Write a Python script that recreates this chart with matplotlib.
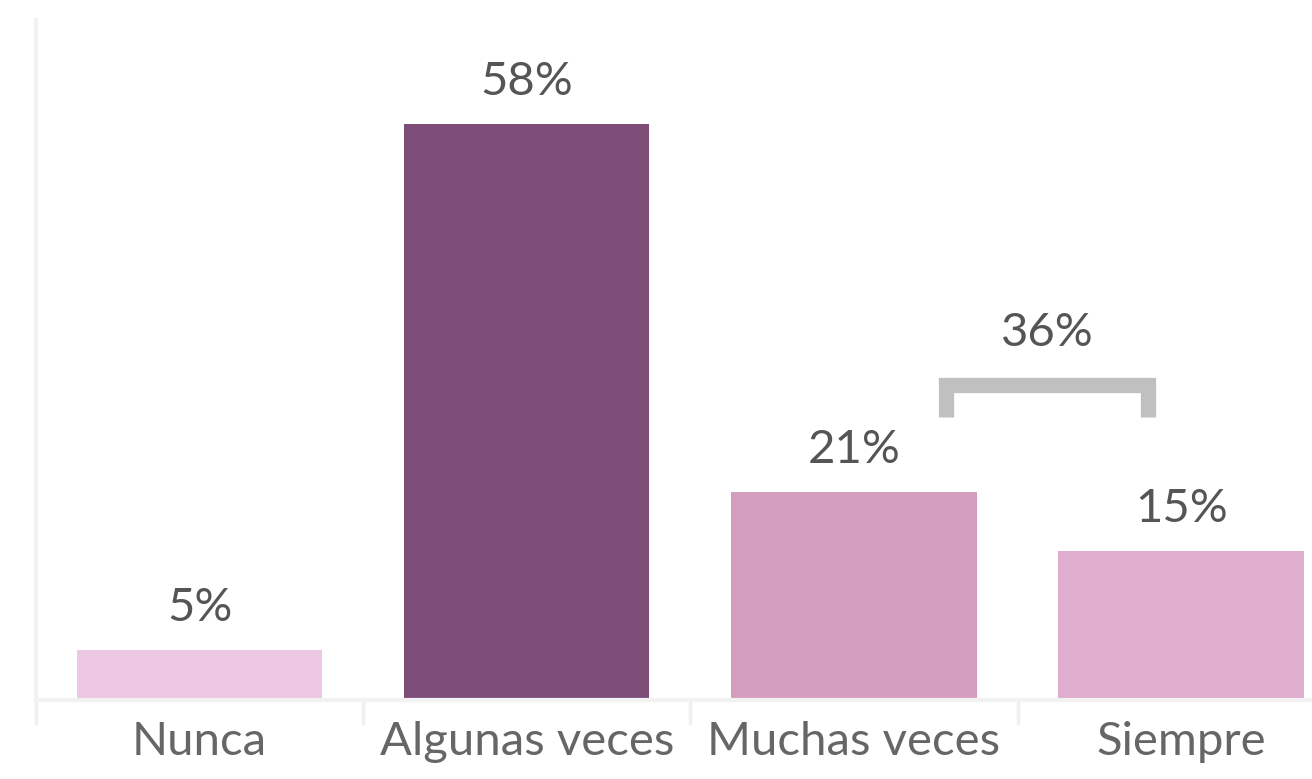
import matplotlib.pyplot as plt

categories = ["Nunca", "Algunas veces", "Muchas veces", "Siempre"]
values = [5, 58, 21, 15]
colors = ["#edc8e3", "#7d4d78", "#d39ebe", "#dfadcd"]
bracket_total = values[2] + values[3]

plt.rcParams['font.family'] = ['Lato', 'DejaVu Sans']

fig = plt.figure(figsize=(13.12, 7.79), dpi=100)
ax = fig.add_axes([36 / 1312, 79 / 779, (1312 - 36) / 1312, 680 / 779])

x = list(range(len(categories)))
ax.bar(x, values, width=0.75, color=colors, zorder=2)

for xi, v in zip(x, values):
    ax.annotate(f"{v}%", (xi, v), xytext=(0, 21), textcoords="offset pixels",
                ha="center", va="bottom", fontsize=34, color="#555555")

# bracket over the last two bars
bx0, bx1 = 2.28, 2.90
by_top, by_leg = 31.7, 28.5
ax.plot([bx0, bx0, bx1, bx1], [by_leg, by_top, by_top, by_leg],
        color="#c0c0c0", lw=11, solid_joinstyle="miter", solid_capstyle="butt",
        zorder=3, clip_on=False)
ax.text((bx0 + bx1) / 2, by_top + 3.2, f"{bracket_total}%", ha="center", va="bottom",
        fontsize=34, color="#555555")

ax.set_xlim(-0.5, 3.4)
ax.set_ylim(0, 68.5)
ax.set_yticks([])
ax.set_xticks([i - 0.5 for i in range(4)], minor=False)
ax.set_xticklabels([])
ax.set_xticks(x, minor=True)
ax.set_xticklabels(categories, minor=True, fontsize=34, color="#666666")
ax.tick_params(axis="x", which="major", length=18, width=2.5, color="#f0f0f0")
ax.tick_params(axis="x", which="minor", length=0, pad=15)

for s in ["top", "right"]:
    ax.spines[s].set_visible(False)
ax.spines["left"].set_color("#f2f2f2")
ax.spines["left"].set_linewidth(3)
ax.spines["bottom"].set_color("#f2f2f2")
ax.spines["bottom"].set_linewidth(3)

fig.savefig("out.png", dpi=100)
